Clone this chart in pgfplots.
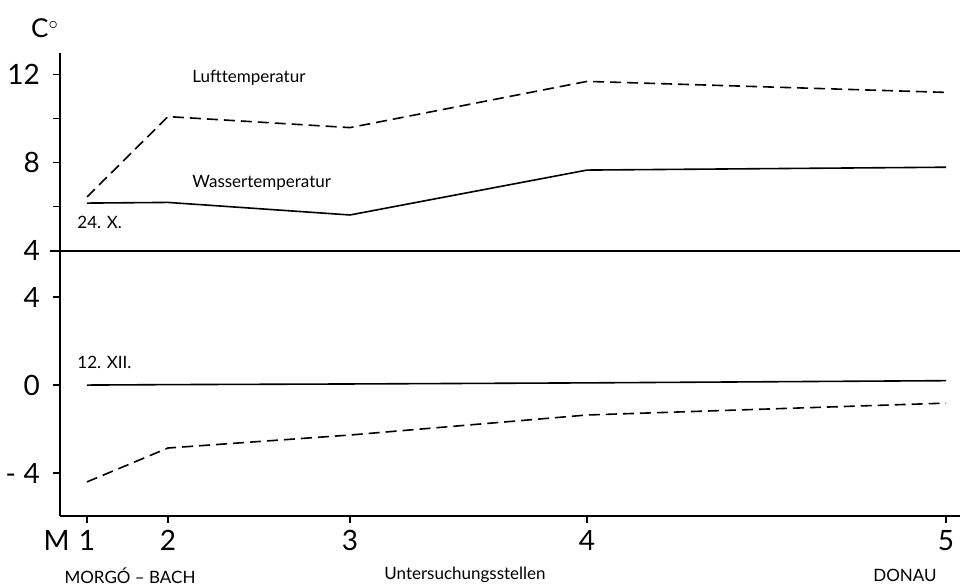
\documentclass[border=0pt]{standalone}
\usepackage{pgfplots}
\pgfplotsset{compat=1.18}
\usepackage{fontspec}
\setmainfont{Lato}
\begin{document}
\begin{tikzpicture}
\begin{axis}[
  scale only axis, width=450pt, height=231.5pt,
  xmin=0, xmax=9.0, ymin=-5.95, ymax=15.09,
  axis x line=bottom, axis y line=left,
  axis line style={-, line width=0.7pt},
  tick align=outside,
  major tick length=3.5pt, minor tick length=3.5pt,
  tick style={line width=0.6pt, black},
  xtick={0.27,1.08,2.90,5.27,8.86},
  xticklabels={\llap{M\,\,}1,2,3,4,5},
  ytick={-4,0,4,6.1,10.1,14.1},
  yticklabels={-\;4,0,4,4,8,12},
  minor ytick={8.1,12.1},
  ticklabel style={font=\fontsize{14}{16}\selectfont},
  yticklabel style={xshift=-3pt},
  clip=false,
  /pgf/number format/assume math mode=true,
]
% 24.X. (top panel, shifted by 2.1)
\addplot[black, line width=0.8pt, dash pattern=on 5.5pt off 3pt] table[x=x, y expr=\thisrow{y}+2.1] {
x y
0.27 6.45
1.08 10.1
2.90 9.6
5.27 11.7
8.86 11.2
};
\addplot[black, line width=0.8pt] table[x=x, y expr=\thisrow{y}+2.1] {
x y
0.27 6.17
1.08 6.2
2.90 5.63
5.27 7.67
8.86 7.8
};
% 12.XII. (bottom panel)
\addplot[black, line width=0.8pt] table[x=x, y=y] {
x y
0.27 0.0
1.08 0.02
2.90 0.05
5.27 0.1
8.86 0.2
};
\addplot[black, line width=0.8pt, dash pattern=on 5.5pt off 3pt] table[x=x, y=y] {
x y
0.27 -4.4
1.08 -2.86
2.90 -2.27
5.27 -1.36
8.86 -0.82
};
\draw[black, line width=0.7pt] (axis cs:-0.1,6.1) -- (axis cs:9.0,6.1);
\node[font=\fontsize{13}{15}\selectfont] at (axis cs:-0.15,16.2) {C$^{\circ}$};
\node[anchor=west, inner sep=0pt, font=\fontsize{8.5}{10}\selectfont] at (axis cs:1.32,13.95) {Lufttemperatur};
\node[anchor=west, inner sep=0pt, font=\fontsize{8.5}{10}\selectfont] at (axis cs:1.32,9.18) {Wassertemperatur};
\node[anchor=west, inner sep=0pt, font=\fontsize{8.5}{10}\selectfont] at (axis cs:0.17,7.41) {24. X.};
\node[anchor=west, inner sep=0pt, font=\fontsize{8.5}{10}\selectfont] at (axis cs:0.17,1.05) {12. XII.};
\node[font=\fontsize{8.5}{10}\selectfont] at (axis cs:0.70,-8.64) {MORGÓ – BACH};
\node[font=\fontsize{8.5}{10}\selectfont] at (axis cs:4.05,-8.64) {Untersuchungsstellen};
\node[font=\fontsize{8.5}{10}\selectfont] at (axis cs:8.45,-8.64) {DONAU};
\coordinate (SW) at (rel axis cs:0,0);
\coordinate (NE) at (rel axis cs:1,1);
\end{axis}
\pgfresetboundingbox
\path ([shift={(-30pt,-34.5pt)}]SW) rectangle ([shift={(2pt,26.5pt)}]NE);
\end{tikzpicture}
\end{document}
